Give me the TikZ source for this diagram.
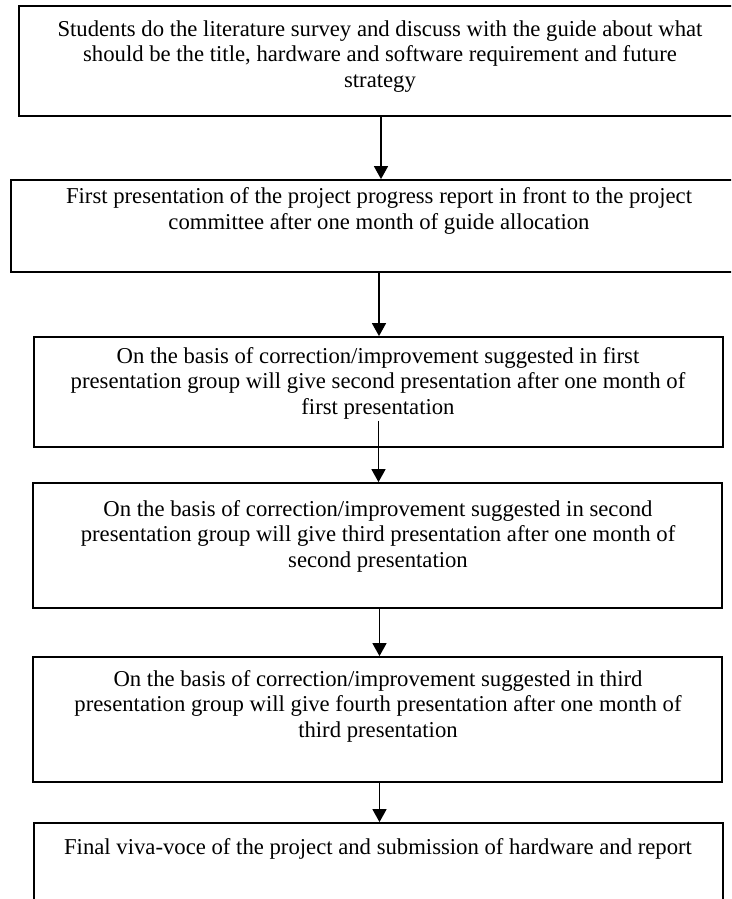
\documentclass[tikz,border=0pt]{standalone}
\usepackage{fontspec}
\setmainfont{Liberation Serif}
\usetikzlibrary{arrows.meta}
\tikzset{
  box/.style={draw, line width=1.8pt, rectangle, inner sep=0pt},
  txt/.style={align=center, anchor=base, inner sep=0pt, font=\fontsize{22.7}{25.5}\selectfont},
  arr/.style={line width=1.6pt, -{Triangle[width=14pt,length=13pt]}}
}
\begin{document}
\begin{tikzpicture}[x=1pt,y=-1pt]
\useasboundingbox (0,0) rectangle (731,899);
\clip (0,0) rectangle (731,899);
\fill[white] (0,0) rectangle (731,899);
% boxes
\node[box, minimum width=724pt, minimum height=110pt] (b1) at (381,61) {};
\node[box, minimum width=736pt, minimum height=92pt] (b2) at (379,226) {};
\node[box, minimum width=689pt, minimum height=110pt] (b3) at (378.5,392) {};
\node[box, minimum width=689pt, minimum height=125pt] (b4) at (377.5,545.5) {};
\node[box, minimum width=689pt, minimum height=125pt] (b5) at (377.5,719.5) {};
\node[box, minimum width=689pt, minimum height=137pt] (b6) at (378.5,891.5) {};
% texts (anchor base = baseline of last line)
\node[txt] (t1) at (380,87) {Students do the literature survey and discuss with the guide about what\\should be the title, hardware and software requirement and future\\strategy};
\node[txt] (t2) at (379,229) {First presentation of the project progress report in front to the project\\committee after one month of guide allocation};
\node[txt] (t3) at (378,414) {On the basis of correction/improvement suggested in first\\presentation group will give second presentation after one month of\\first presentation};
\node[txt] (t4) at (378,567) {On the basis of correction/improvement suggested in second\\presentation group will give third presentation after one month of\\second presentation};
\node[txt] (t5) at (378,737) {On the basis of correction/improvement suggested in third\\presentation group will give fourth presentation after one month of\\third presentation};
\node[txt] (t6) at (378,854) {Final viva-voce of the project and submission of hardware and report};
% connectors
\coordinate (s3) at ([yshift=27pt]b3.south);
\draw[arr] (b1.south) -- (b1.south |- b2.north);
\draw[arr] (b2.south) -- (b2.south |- b3.north);
\draw[arr] (s3) -- (s3 |- b4.north);
\draw[arr] ([xshift=2pt]b4.south) -- ([xshift=2pt]b4.south |- b5.north);
\draw[arr] ([xshift=2pt]b5.south) -- ([xshift=2pt]b5.south |- b6.north);
\end{tikzpicture}
\end{document}
